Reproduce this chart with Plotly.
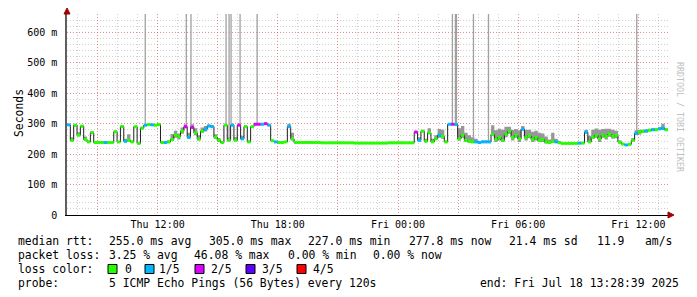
import plotly.graph_objects as go
import pandas as pd

# ---------------- data ----------------
start = "2025-07-17 07:28:39"
end = "2025-07-18 13:28:39"
step = "10min"

median_ms = [
    296, 245, 295, 262, 292, 248, 240, 270, 238, 238,
    238, 238, 238, 238, 273, 240, 290, 242, 245, 240,
    290, 235, 285, 295, 297, 296, 295, 297, 238, 238,
    240, 248, 262, 258, 275, 290, 255, 288, 270, 250,
    275, 282, 292, 290, 255, 245, 238, 295, 245, 295,
    245, 295, 250, 290, 240, 290, 298, 298, 298, 300,
    295, 244, 240, 238, 238, 240, 290, 250, 238, 238,
    238, 238, 238, 238, 238, 238, 237, 237, 237, 237,
    237, 237, 237, 237, 237, 237, 236, 236, 236, 236,
    236, 236, 236, 236, 236, 236, 237, 237, 237, 237,
    237, 237, 237, 237, 272, 245, 275, 242, 270, 240,
    250, 262, 258, 240, 298, 298, 297, 250, 262, 245,
    242, 240, 240, 238, 240, 240, 240, 265, 248, 255,
    245, 265, 275, 255, 262, 250, 282, 255, 260, 248,
    255, 245, 248, 240, 238, 242, 240, 237, 235, 235,
    235, 235, 235, 236, 236, 272, 240, 255, 262, 250,
    262, 258, 265, 258, 262, 240, 233, 230, 232, 245,
    268, 272, 275, 276, 278, 280, 280, 283, 285, 280,
]

loss_class = [
    1, 0, 0, 0, 0, 0, 0, 0, 0, 0,
    0, 1, 0, 0, 0, 0, 0, 1, 0, 0,
    0, 0, 0, 1, 0, 1, 0, 0, 0, 1,
    0, 0, 0, 0, 0, 2, 1, 2, 0, 0,
    0, 1, 1, 1, 0, 0, 0, 0, 0, 1,
    0, 2, 1, 0, 0, 0, 2, 2, 1, 2,
    1, 0, 1, 0, 0, 0, 1, 0, 0, 0,
    0, 0, 0, 0, 0, 0, 0, 0, 0, 0,
    0, 0, 0, 0, 0, 0, 0, 0, 0, 0,
    0, 0, 0, 0, 0, 0, 0, 0, 0, 0,
    0, 0, 0, 0, 2, 1, 0, 0, 0, 0,
    0, 1, 0, 0, 1, 2, 1, 0, 0, 0,
    0, 0, 1, 1, 1, 1, 1, 0, 0, 0,
    0, 0, 0, 0, 0, 0, 1, 0, 0, 0,
    0, 0, 0, 0, 0, 0, 1, 0, 0, 0,
    0, 0, 0, 1, 0, 1, 0, 0, 0, 0,
    0, 0, 0, 0, 0, 0, 0, 1, 0, 0,
    1, 0, 0, 1, 0, 1, 0, 1, 1, 0,
]

smoke_up_ms = [
    0, 10, 0, 10, 0, 10, 5, 5, 0, 0,
    0, 0, 0, 0, 5, 0, 5, 8, 20, 5,
    0, 5, 5, 0, 0, 0, 0, 0, 0, 0,
    5, 18, 15, 10, 12, 8, 15, 10, 15, 12,
    12, 10, 5, 5, 10, 8, 5, 0, 10, 0,
    10, 0, 10, 5, 5, 0, 0, 0, 0, 0,
    0, 0, 0, 0, 0, 0, 10, 20, 0, 0,
    0, 0, 5, 5, 0, 0, 0, 0, 0, 0,
    0, 0, 0, 0, 0, 0, 0, 0, 0, 0,
    0, 0, 0, 0, 0, 0, 0, 0, 0, 0,
    0, 0, 0, 0, 5, 10, 5, 8, 15, 10,
    12, 20, 22, 5, 0, 0, 0, 35, 30, 25,
    20, 15, 10, 5, 5, 5, 5, 30, 30, 28,
    35, 25, 15, 25, 20, 28, 10, 25, 20, 25,
    22, 25, 20, 18, 10, 28, 10, 5, 0, 0,
    0, 0, 0, 0, 0, 8, 20, 25, 22, 30,
    20, 25, 18, 22, 15, 5, 0, 0, 0, 8,
    10, 8, 5, 5, 5, 5, 5, 5, 15, 5,
]

smoke_dn_ms = [
    0, 0, 5, 0, 5, 0, 0, 0, 0, 0,
    0, 0, 0, 0, 0, 0, 0, 0, 0, 0,
    0, 0, 0, 0, 0, 0, 0, 0, 0, 0,
    0, 5, 8, 10, 8, 5, 5, 5, 8, 5,
    5, 8, 0, 0, 5, 5, 0, 0, 0, 0,
    0, 0, 0, 0, 0, 0, 0, 0, 0, 0,
    0, 0, 0, 0, 0, 0, 0, 5, 0, 0,
    0, 0, 0, 0, 0, 0, 0, 0, 0, 0,
    0, 0, 0, 0, 0, 0, 0, 0, 0, 0,
    0, 0, 0, 0, 0, 0, 0, 0, 0, 0,
    0, 0, 0, 0, 0, 0, 0, 0, 5, 0,
    0, 8, 8, 0, 0, 0, 0, 5, 8, 5,
    5, 3, 3, 0, 0, 0, 0, 5, 8, 10,
    5, 10, 8, 10, 8, 10, 5, 10, 8, 8,
    10, 5, 8, 5, 3, 5, 0, 0, 0, 0,
    0, 0, 0, 0, 0, 5, 0, 5, 8, 10,
    8, 10, 8, 8, 10, 5, 0, 0, 0, 0,
    5, 8, 5, 5, 3, 3, 3, 3, 5, 3,
]

# pings whose max went off the top of the chart
spike_times = [
    "2025-07-17 11:23", "2025-07-17 13:26", "2025-07-17 13:40",
    "2025-07-17 15:25", "2025-07-17 15:34", "2025-07-17 15:40",
    "2025-07-17 16:07", "2025-07-17 16:58",
    "2025-07-18 02:43", "2025-07-18 02:52", "2025-07-18 02:55",
    "2025-07-18 03:46", "2025-07-18 04:31", "2025-07-18 11:55",
]

x_tick_times = [
    "2025-07-17 09:00", "2025-07-17 12:00", "2025-07-17 15:00",
    "2025-07-17 18:00", "2025-07-17 21:00", "2025-07-18 00:00",
    "2025-07-18 03:00", "2025-07-18 06:00", "2025-07-18 09:00",
    "2025-07-18 12:00",
]
x_tick_labels = ["", "Thu 12:00", "", "Thu 18:00", "", "Fri 00:00",
                 "", "Fri 06:00", "", "Fri 12:00"]

y_tick_vals = [0, 100, 200, 300, 400, 500, 600]
y_tick_labels = ["0", "100 m", "200 m", "300 m", "400 m", "500 m", "600 m"]

loss_colors = ["#26ff00", "#00b8ff", "#dd00ff", "#5e00ff", "#ff0000"]
loss_labels = ["0", "1/5", "2/5", "3/5", "4/5"]

legend_rows = [
    [("median rtt:", 16), ("255.0 ms avg", 107), ("305.0 ms max", 207),
     ("227.0 ms min", 306), ("277.8 ms now", 407), ("21.4 ms sd", 507),
     ("11.9   am/s", 595)],
    [("packet loss:", 16), ("3.25 % avg", 107), ("46.08 % max", 192),
     ("0.00 % min", 286), ("0.00 % now", 371)],
    [("loss color:", 16)],
    [("probe:", 16), ("5 ICMP Echo Pings (56 Bytes) every 120s", 107),
     ("end: Fri Jul 18 13:28:39 2025", 478)],
]
legend_row_y = [241, 255, 269, 283]
loss_box_x = [108, 145, 195, 246, 297]
loss_text_x = [123, 157, 209, 260, 311]

# ---------------- geometry ----------------
W, H = 697, 297
L, R, T, B = 67, 29, 14, 82
PW, PH = W - L - R, H - T - B
Y_MAX = 660
FONT = "DejaVu Sans Mono"


def px2x(px):
    return (px - L) / PW


def py2y(py):
    return (H - B - py) / PH


n = len(median_ms)
edges = pd.date_range(start, periods=n + 1, freq=step)
t0 = pd.Timestamp(start)
dt = pd.Timedelta(step)

fig = go.Figure()

# smoke band
lo = [m - d for m, d in zip(median_ms, smoke_dn_ms)]
hi = [m + u for m, u in zip(median_ms, smoke_up_ms)]
fig.add_trace(go.Scatter(x=edges, y=lo + [lo[-1]], mode="lines",
                         line=dict(width=0, shape="hv"), hoverinfo="skip"))
fig.add_trace(go.Scatter(x=edges, y=hi + [hi[-1]], mode="lines",
                         line=dict(width=0, shape="hv"), fill="tonexty",
                         fillcolor="#979797", hoverinfo="skip"))

# spikes
sx, sy = [], []
for s in spike_times:
    ts = pd.Timestamp(s)
    idx = min(int((ts - t0) / dt), n - 1)
    sx += [ts, ts, None]
    sy += [median_ms[idx], Y_MAX + 50, None]
fig.add_trace(go.Scatter(x=sx, y=sy, mode="lines",
                         line=dict(color="#a0a0a0", width=1.3),
                         hoverinfo="skip"))

# dark median line
fig.add_trace(go.Scatter(x=edges, y=median_ms + [median_ms[-1]], mode="lines",
                         line=dict(color="#202020", width=1, shape="hv"),
                         hoverinfo="skip"))

# loss-coloured median bars
for c, col in enumerate(loss_colors):
    xs, ys = [], []
    for i in range(n):
        if loss_class[i] == c:
            xs += [edges[i], edges[i + 1], None]
            ys += [median_ms[i], median_ms[i], None]
    if xs:
        fig.add_trace(go.Scatter(x=xs, y=ys, mode="lines",
                                 line=dict(color=col, width=3),
                                 hoverinfo="skip"))

major_grid = "rgba(255,60,60,0.45)"
minor_grid = "rgba(150,150,150,0.45)"
grid_dash = "1px,2px"

fig.update_layout(
    width=W, height=H,
    margin=dict(l=L, r=R, t=T, b=B),
    paper_bgcolor="white", plot_bgcolor="white",
    showlegend=False, hovermode=False,
    font=dict(family=FONT, size=10, color="black"),
    xaxis=dict(
        type="date", range=[start, end],
        tickvals=x_tick_times, ticktext=x_tick_labels,
        showgrid=True, gridcolor=major_grid, griddash=grid_dash, gridwidth=1,
        minor=dict(dtick=3600000, tick0="2025-07-17 08:00",
                   showgrid=True, gridcolor=minor_grid, griddash=grid_dash,
                   gridwidth=1),
        showline=True, linecolor="black", linewidth=1,
        zeroline=False, ticks="", tickfont=dict(family=FONT, size=10),
        fixedrange=True,
    ),
    yaxis=dict(
        range=[0, Y_MAX],
        tickvals=y_tick_vals, ticktext=y_tick_labels,
        showgrid=True, gridcolor=major_grid, griddash=grid_dash, gridwidth=1,
        minor=dict(dtick=20, showgrid=True, gridcolor=minor_grid,
                   griddash=grid_dash, gridwidth=1),
        showline=True, linecolor="#606060", linewidth=1.5,
        zeroline=False, ticks="", ticklabelstandoff=6,
        tickfont=dict(family=FONT, size=10), fixedrange=True,
    ),
)

ann = []
ann.append(dict(text="Seconds", x=px2x(10), y=py2y(113), xref="paper",
                yref="paper", showarrow=False, textangle=-90,
                font=dict(family=FONT, size=11.4, color="black")))
ann.append(dict(text="RRDTOOL / TOBI OETIKER", x=px2x(687), y=py2y(60),
                xref="paper", yref="paper", showarrow=False, textangle=90,
                font=dict(family=FONT, size=8.3, color="#c0c0c0")))
for row, yy in zip(legend_rows, legend_row_y):
    for txt, xx in row:
        ann.append(dict(text=txt, x=px2x(xx), y=py2y(yy), xref="paper",
                        yref="paper", xanchor="left", yanchor="middle",
                        showarrow=False,
                        font=dict(family=FONT, size=11.4, color="black")))
shapes = []
for bx, tx, col, lab in zip(loss_box_x, loss_text_x, loss_colors, loss_labels):
    shapes.append(dict(type="rect", xref="paper", yref="paper",
                       x0=px2x(bx), x1=px2x(bx + 9),
                       y0=py2y(legend_row_y[2] + 4.5),
                       y1=py2y(legend_row_y[2] - 4.5),
                       fillcolor=col, line=dict(color="black", width=1)))
    ann.append(dict(text=lab, x=px2x(tx), y=py2y(legend_row_y[2]),
                    xref="paper", yref="paper", xanchor="left",
                    yanchor="middle", showarrow=False,
                    font=dict(family=FONT, size=11.4, color="black")))

# axis arrows
shapes.append(dict(type="path", xref="paper", yref="paper",
                   path=f"M {px2x(668)} {py2y(212)} L {px2x(674)} {py2y(215)} "
                        f"L {px2x(668)} {py2y(218)} Z",
                   fillcolor="#a00000", line=dict(color="#a00000", width=1)))
shapes.append(dict(type="path", xref="paper", yref="paper",
                   path=f"M {px2x(64)} {py2y(14)} L {px2x(67)} {py2y(8)} "
                        f"L {px2x(70)} {py2y(14)} Z",
                   fillcolor="#a00000", line=dict(color="#a00000", width=1)))

fig.update_layout(annotations=ann, shapes=shapes)
fig.write_html("out.html")
